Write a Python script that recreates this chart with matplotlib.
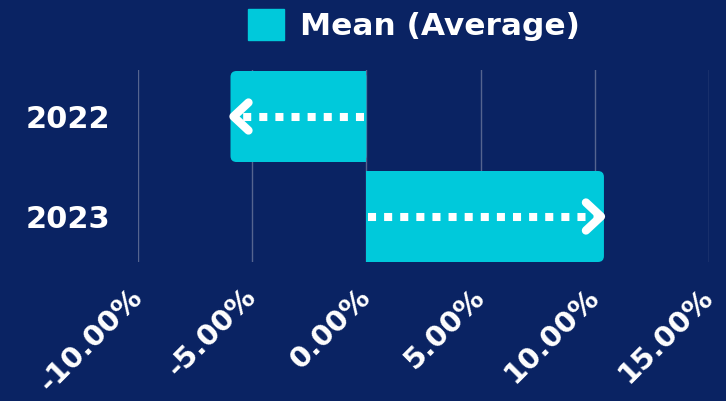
"""Mean change by year, horizontal bars with arrows."""
import matplotlib.pyplot as plt
import numpy as np
from matplotlib.patches import FancyBboxPatch, Patch, Rectangle
from matplotlib.ticker import FuncFormatter

# data
years = ["2022", "2023"]
mean_change = [-5.95, 10.4]  # percent
xticks = [-10, -5, 0, 5, 10, 15]
legend_label = "Mean (Average)"

BG = "#0a2363"
CYAN = "#00c9db"
GRID = "#55648f"
FONT = "DejaVu Sans"

fig = plt.figure(figsize=(7.26, 4.01), dpi=100, facecolor=BG)
W, H = 726, 401
ax = fig.add_axes([138 / W, (H - 262) / H, (709 - 138) / W, (262 - 70) / H])
ax.set_facecolor(BG)

ax.set_xlim(-10, 15)
ax.set_ylim(1.455, -0.465)

ypos = np.arange(len(years))
bar_h = 0.91
bars = ax.barh(ypos, mean_change, height=bar_h, color=CYAN, zorder=2)

# data units per pixel, used to keep round corners round
xpp = 25 / (709 - 138)
ypp = 1.92 / (262 - 70)
r = 6 * xpp
for b, v in zip(bars, mean_change):
    x0, y0, w, h = b.get_x(), b.get_y(), b.get_width(), b.get_height()
    left = min(x0, x0 + w)
    b.set_visible(False)
    ax.add_patch(FancyBboxPatch((left, y0), abs(w), h,
                                boxstyle=f"round,pad=0,rounding_size={r}",
                                mutation_aspect=ypp / xpp,
                                fc=CYAN, ec="none", zorder=2))
    # square off the end at zero
    ax.add_patch(Rectangle((0 if v > 0 else v / 2, y0), abs(v) / 2, h,
                           fc=CYAN, ec="none", zorder=2))

    # dotted arrow shaft + chevron head
    sgn = np.sign(v)
    yc = y0 + h / 2
    tip = v - sgn * 3 * xpp
    ax.plot([sgn * 2 * xpp, tip - sgn * 6 * xpp], [yc, yc], color="white",
            lw=5.8, linestyle=(0, (1, 1)), dash_capstyle="butt", zorder=3)
    arm_x = tip - sgn * 15 * xpp
    ax.plot([arm_x, tip, arm_x], [yc - 14 * ypp, yc, yc + 14 * ypp],
            color="white", lw=6, solid_capstyle="round",
            solid_joinstyle="round", zorder=4)

ax.set_xticks(xticks)
ax.xaxis.set_major_formatter(FuncFormatter(lambda x, _: f"{x:.2f}%"))
ax.set_yticks(ypos, years)
ax.grid(axis="x", color=GRID, lw=1, zorder=0)
ax.tick_params(length=0, colors="white")
ax.tick_params(axis="y", pad=20)
ax.tick_params(axis="x", pad=22)
for s in ax.spines.values():
    s.set_visible(False)

for lab in ax.get_yticklabels():
    lab.set_fontfamily(FONT)
    lab.set_fontweight("bold")
    lab.set_fontsize(22)
for lab in ax.get_xticklabels():
    lab.set_fontfamily(FONT)
    lab.set_fontweight("bold")
    lab.set_fontsize(21)
    lab.set_rotation(45)
    lab.set_ha("right")
    lab.set_va("center")
    lab.set_rotation_mode("anchor")

leg = fig.legend(handles=[Patch(color=CYAN, label=legend_label)],
                 loc="center", bbox_to_anchor=(414 / W, 1 - 25 / H),
                 frameon=False, handlelength=1.15, handleheight=1.15,
                 handletextpad=0.5, borderpad=0.1,
                 prop={"family": FONT, "weight": "bold", "size": 22.5})
for t in leg.get_texts():
    t.set_color("white")

fig.savefig("out.png", dpi=100, facecolor=BG)
